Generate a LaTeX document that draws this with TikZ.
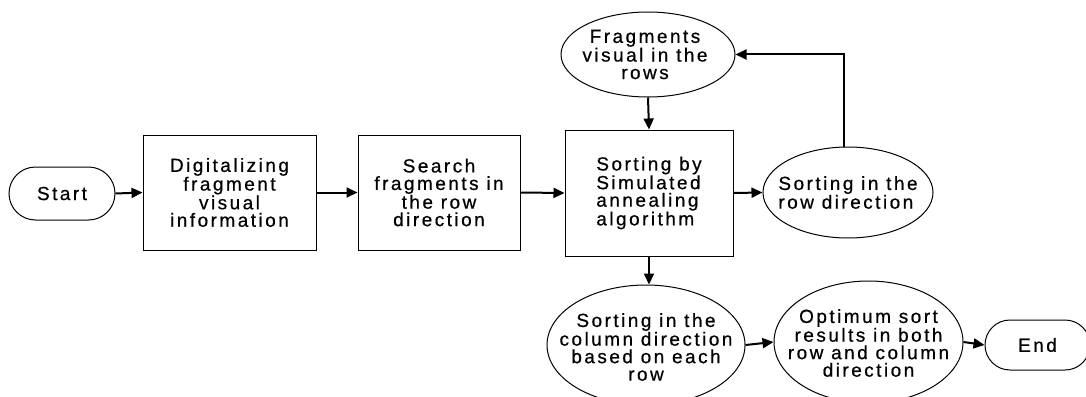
\documentclass[tikz,border=0pt]{standalone}
\usepackage{fontspec}
\setmainfont{Liberation Sans}[LetterSpace=13,FakeBold=0.6]
\usetikzlibrary{shapes.geometric,arrows.meta}
\begin{document}
\begin{tikzpicture}[x=1pt,y=-1pt,
  frame/.style={draw, line width=1pt, inner sep=0pt},
  boxnode/.style={frame, rectangle},
  oval/.style={frame, ellipse},
  term/.style={frame, rectangle, rounded corners=#1},
  txt/.style={font=\fontsize{19}{17.5}\selectfont, inner sep=0pt},
  flow/.style={line width=2pt, -{Triangle[length=11pt,width=10pt]}}]
\useasboundingbox (0,0) rectangle (1086,396);

% terminals
\node[term=26.5pt, minimum width=106pt, minimum height=53pt] (start) at (62,193.5) {};
\node[txt] (starttxt) at (start.center) {Start};
\node[term=25pt, minimum width=105pt, minimum height=50pt] (end) at (1037.5,345) {};
\node[txt] (endtxt) at (end.center) {End};

% process boxes
\node[boxnode, minimum width=173pt, minimum height=115pt] (digit) at (229.5,192.5) {};
\node[txt, align=center] (digittxt) at (digit.center) {Digitalizing\\fragment\\visual\\information};
\node[boxnode, minimum width=162pt, minimum height=115pt] (search) at (439,192.5) {};
\node[txt, align=center] (searchtxt) at (search.center) {Search\\fragments in\\the row\\direction};
\node[boxnode, minimum width=168pt, minimum height=126pt] (anneal) at (649,193) {};
\node[txt, align=left] (annealtxt) at (anneal.center) {Sorting by\\Simulated\\annealing\\algorithm};

% ellipses
\node[oval, minimum width=174pt, minimum height=85pt] (visual) at (648,54.5) {};
\node[txt, align=center] (visualtxt) at ([xshift=-3pt]visual.center) {Fragments\\visual in the\\rows};
\node[oval, minimum width=170pt, minimum height=91pt] (rowsort) at (848,192.5) {};
\node[txt, align=left] (rowsorttxt) at (rowsort.center) {Sorting in the\\row direction};
\node[oval, minimum width=198pt, minimum height=120pt] (colsort) at (646,345) {};
\node[txt, align=center] (colsorttxt) at ([yshift=-2pt]colsort.center) {Sorting in the\\column direction\\based on each\\row};
\node[oval, minimum width=189pt, minimum height=122pt] (optimum) at (868.5,342) {};
\node[txt, align=center] (optimumtxt) at ([yshift=-1pt]optimum.center) {Optimum sort\\results in both\\row and column\\direction};

% connectors
\draw[flow] (start.east) -- (digit.west);
\draw[flow] (digit.east) -- (search.west);
\draw[flow] (search.east) -- (anneal.west);
\draw[flow] (visual.south) -- (anneal.north);
\draw[flow] (anneal.east) -- (rowsort.west);
\draw[flow] ([xshift=-4pt]rowsort.north) |- (visual.east);
\draw[flow] (anneal.south) -- (anneal.south |- colsort.north);
\draw[flow] (colsort.east) -- (optimum.west);
\draw[flow] (optimum.east) -- (end.west);
\end{tikzpicture}
\end{document}
